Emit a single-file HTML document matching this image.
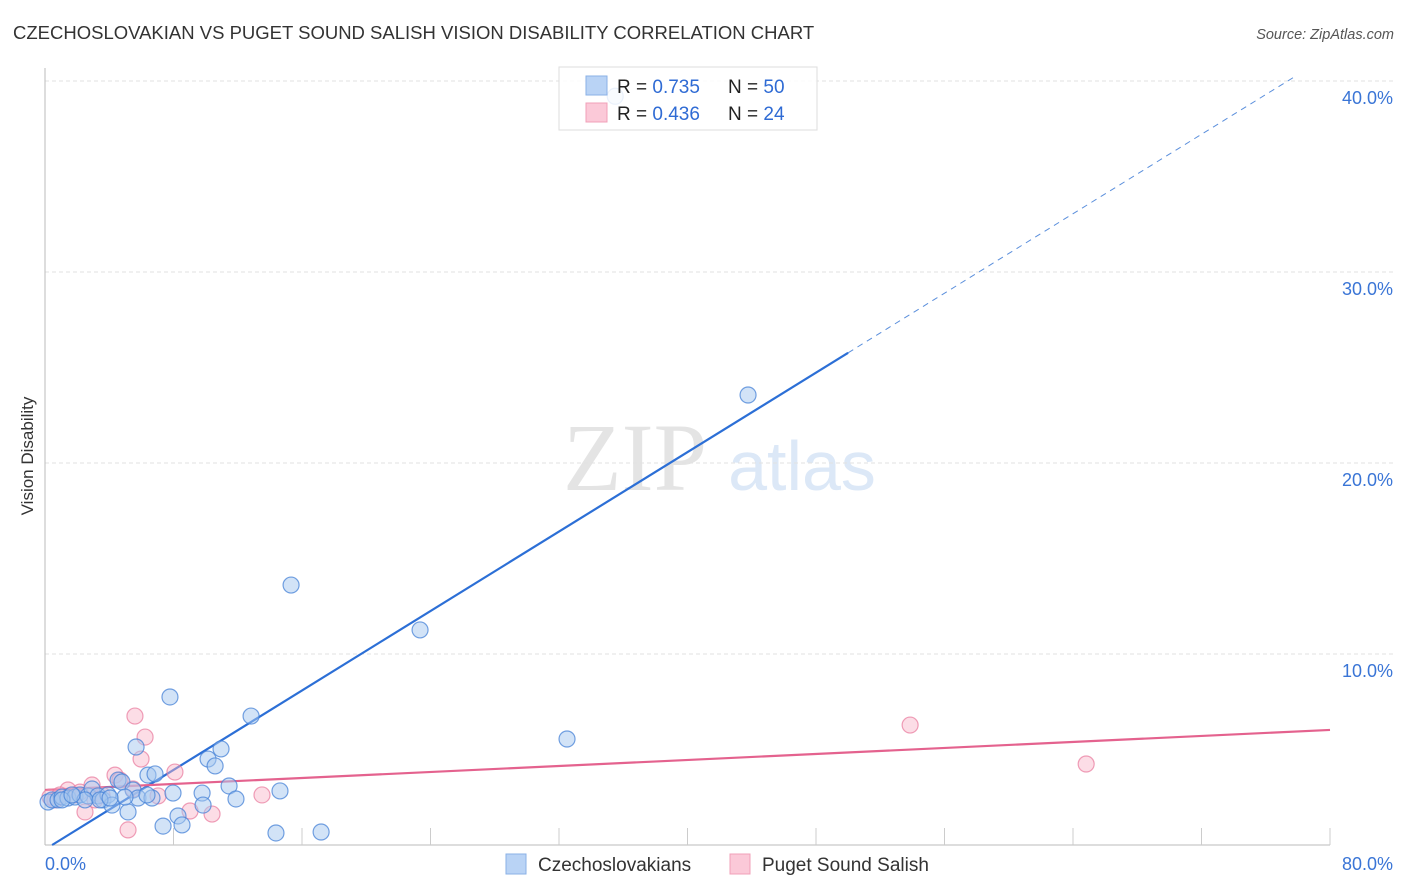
<!DOCTYPE html>
<html><head><meta charset="utf-8">
<style>
body{margin:0;background:#fff;font-family:"Liberation Sans",sans-serif;}
#wrap{position:relative;width:1406px;height:892px;overflow:hidden;}
</style></head>
<body>
<div id="wrap">
<svg id="chart" width="1406" height="892" xmlns="http://www.w3.org/2000/svg">
<text x="13" y="39" font-size="18.5" fill="#333">CZECHOSLOVAKIAN VS PUGET SOUND SALISH VISION DISABILITY CORRELATION CHART</text>
<text x="1394" y="39" font-size="14.5" fill="#555" font-style="italic" text-anchor="end">Source: ZipAtlas.com</text>
<text transform="translate(33,456) rotate(-90)" font-size="17" fill="#333" text-anchor="middle">Vision Disability</text>
<g>
<text x="635" y="490" font-size="96" fill="#e4e4e4" font-family="Liberation Serif,serif" text-anchor="middle">ZIP</text>
<text x="802" y="490" font-size="70" fill="#dce8f7" text-anchor="middle">atlas</text>
</g>
<g id="grid"></g>
<g id="axes"></g>
<g id="lines"></g>
<g id="points"></g>
<g>
<rect x="559" y="67" width="258" height="63" fill="rgba(255,255,255,0.85)" stroke="#ddd"/>
<rect x="586" y="76" width="21" height="19" fill="#b9d3f5" stroke="#8ab0e6"/>
<rect x="586" y="103" width="21" height="19" fill="#fbc9d8" stroke="#f0a0b8"/>
<text x="617" y="93" font-size="19" fill="#222">R = <tspan fill="#2f6bd4">0.735</tspan><tspan x="728">N = </tspan><tspan fill="#2f6bd4">50</tspan></text>
<text x="617" y="120" font-size="19" fill="#222">R = <tspan fill="#2f6bd4">0.436</tspan><tspan x="728">N = </tspan><tspan fill="#2f6bd4"> 24</tspan></text>
</g>
<g>
<rect x="506" y="854" width="20" height="20" fill="#b9d3f5" stroke="#8ab0e6"/>
<text x="538" y="871" font-size="19" fill="#333">Czechoslovakians</text>
<rect x="730" y="854" width="20" height="20" fill="#fbc9d8" stroke="#f0a0b8"/>
<text x="762" y="871" font-size="19" fill="#333">Puget Sound Salish</text>
</g>
</svg>
</div>
<script>
const blueX=[0.19,0.44,0.81,1.06,1.43,1.87,2.18,2.68,2.93,3.30,3.61,3.92,4.17,4.55,4.79,5.17,5.48,5.79,5.67,6.41,6.66,6.85,6.35,7.35,7.78,7.97,8.28,8.53,9.78,9.84,10.15,10.59,10.96,11.46,11.89,12.83,14.38,14.63,15.32,17.19,23.35,32.50,43.77,1.06,2.49,3.42,4.98,1.68,4.05,35.5];
const blueY=[2.25,2.36,2.36,2.51,2.46,2.51,2.62,2.57,2.93,2.57,2.36,2.62,2.09,3.40,3.30,1.73,2.88,2.46,5.13,3.66,2.46,3.72,2.62,0.99,7.75,2.72,1.52,1.05,2.72,2.09,4.50,4.14,5.03,3.09,2.41,6.75,0.63,2.83,13.61,0.68,11.26,5.55,23.56,2.36,2.36,2.36,2.51,2.62,2.46,39.2];
const pinkX=[0.31,0.62,1.43,1.87,2.18,2.49,2.93,3.55,4.36,4.67,5.17,5.48,5.60,5.98,6.23,7.04,8.09,9.03,10.40,13.51,53.86,64.82,0.93,3.11];
const pinkY=[2.51,2.36,2.88,2.62,2.77,1.73,3.14,2.62,3.66,3.40,0.79,2.93,6.75,4.50,5.65,2.57,3.82,1.78,1.62,2.62,6.28,4.24,2.62,2.36];
const yTicks=[10,20,30,40];
const blueFit=[-0.23,0.52];
const pinkFit=[2.88,0.0393];
const X0=45,X1=1330,Y0=845,PXY=19.1;
const sx=v=>X0+v/80*(X1-X0);
const sy=v=>Y0-v*PXY;
const NS="http://www.w3.org/2000/svg";
function mk(tag,attrs,parent){const e=document.createElementNS(NS,tag);for(const k in attrs)e.setAttribute(k,attrs[k]);document.getElementById(parent).appendChild(e);return e;}
yTicks.forEach(t=>{
  const l=mk('line',{x1:X0,x2:1394,y1:sy(t),y2:sy(t),stroke:'#e2e2e2','stroke-dasharray':'4,3'},'grid');
  
  
  const tx=mk('text',{x:1393,y:sy(t)+23,'font-size':18,fill:'#3a75d6','text-anchor':'end'},'grid');
  tx.textContent=t.toFixed(1)+'%';
  
  
});
const ya=mk('line',{x1:X0,x2:X0,y1:68,y2:Y0,stroke:'#bbb'},'axes');


const xa=mk('line',{x1:X0,x2:X1,y1:Y0,y2:Y0,stroke:'#bbb'},'axes');


for(let i=1;i<=10;i++){
  const t=mk('line',{x1:sx(i*8),x2:sx(i*8),y1:828,y2:Y0,stroke:'#ccc'},'axes');
  
  
}
const xl0=mk('text',{x:45,y:870,'font-size':18,fill:'#3a75d6'},'axes');xl0.textContent='0.0%';


const xl1=mk('text',{x:1393,y:870,'font-size':18,fill:'#3a75d6','text-anchor':'end'},'axes');xl1.textContent='80.0%';


pinkX.forEach((x,i)=>{
  const c=mk('circle',{cx:sx(x),cy:sy(pinkY[i]),r:8,fill:'rgba(248,180,200,0.45)',stroke:'rgba(232,120,155,0.7)','stroke-width':1.2},'points');
  
  
});
blueX.forEach((x,i)=>{
  const c=mk('circle',{cx:sx(x),cy:sy(blueY[i]),r:8,fill:'rgba(165,200,240,0.5)',stroke:'rgba(70,130,215,0.75)','stroke-width':1.2},'points');
  
  
});
const bx0=-blueFit[0]/blueFit[1];
const b1=mk('line',{x1:sx(bx0),y1:sy(0),x2:sx(50),y2:sy(blueFit[0]+blueFit[1]*50),stroke:'#2c6fd6','stroke-width':2.2},'lines');


const b2=mk('line',{x1:sx(50),y1:sy(blueFit[0]+blueFit[1]*50),x2:sx(77.8),y2:sy(blueFit[0]+blueFit[1]*77.8),stroke:'#5b8fdc','stroke-width':1,'stroke-dasharray':'6,5'},'lines');


const p1=mk('line',{x1:sx(0),y1:sy(pinkFit[0]),x2:sx(80),y2:sy(pinkFit[0]+pinkFit[1]*80),stroke:'#e4628e','stroke-width':2.2},'lines');


</script>
</body></html>
